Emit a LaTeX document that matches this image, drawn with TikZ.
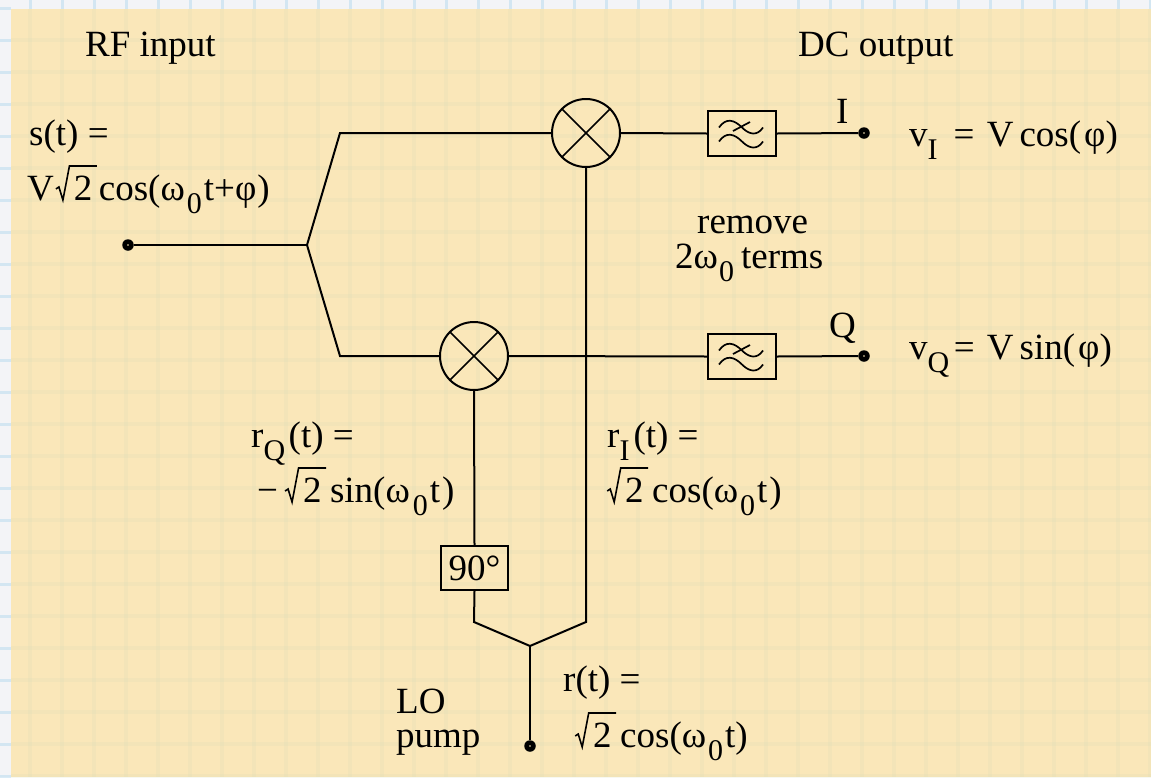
\documentclass[tikz,border=0pt]{standalone}
\usepackage{fontspec}
\setmainfont{Liberation Serif}
\usetikzlibrary{calc}
\definecolor{paper}{HTML}{F3F4F7}
\definecolor{panel}{HTML}{FAE7B9}
\definecolor{gridblue}{HTML}{BFDDF0}
\definecolor{gridtan}{HTML}{D8DCB8}
\newcommand{\sbs}[1]{\raisebox{-13pt}{\fontsize{30}{30}\selectfont #1}}
\newcommand{\rtwo}{\makebox[45pt][l]{\rlap{\tikz[baseline=0pt,overlay,x=1pt,y=1pt]\draw[line width=1.6pt,line join=miter] (0,11) -- (3,13) -- (7,0) -- (13.5,34) -- (41,34);}\hspace{18pt}2}}
\tikzset{
  x=1pt,y=-1pt,
  wire/.style={line width=2pt,line join=miter,black},
  lbl/.style={anchor=base west,inner sep=0pt,font=\fontsize{37}{37}\selectfont,text=black},
  mixer/.style={circle,draw,line width=2pt,minimum size=68pt,inner sep=0pt},
  filterbox/.style={rectangle,draw,line width=2pt,minimum width=68pt,minimum height=45pt,inner sep=0pt},
  phasebox/.style={rectangle,draw,line width=2pt,minimum width=67pt,minimum height=44pt,inner sep=0pt,font=\fontsize{37}{37}\selectfont},
  terminal/.style={circle,fill=black,inner sep=0pt,minimum size=11.5pt,path picture={\fill[panel] (path picture bounding box.center) circle (0.8pt);}},
  gridedge/.style={line width=3pt,gridblue,opacity=0.6},
  gridline/.style={line width=3.5pt,gridtan,opacity=0.2},
  wave/.pic={
    \draw[line width=1.7pt] (-23,-6) .. controls (-16,-16) and (-8,-14) .. (0,-6) .. controls (7,1) and (15,3) .. (21,-6);
    \draw[line width=1.7pt] (-9,-2.5) -- (8,-11.5);
    \draw[line width=1.7pt] (-23,8) .. controls (-16,-2) and (-8,0) .. (0,8) .. controls (7,15) and (15,17) .. (21,8);
  }
}
\begin{document}
\begin{tikzpicture}
\useasboundingbox (0,0) rectangle (1151,777);
\fill[paper] (0,0) rectangle (1151,777);
\foreach \gx in {30,62,...,1150} \draw[gridedge] (\gx,0) -- (\gx,9);
\foreach \gy in {8,40,...,776} \draw[gridedge] (0,\gy) -- (11,\gy);
\fill[panel] (11,9) rectangle (1151,777);
\foreach \gx in {30,62,...,1150} \draw[gridline] (\gx,9) -- (\gx,777);
\foreach \gy in {40,72,...,776} \draw[gridline] (11,\gy) -- (1151,\gy);

% mixers, filters, phase shifter
\node[mixer] (mI) at (586,133) {};
\node[mixer] (mQ) at (474,356) {};
\draw[line width=1.7pt] (mI.45) -- (mI.225) (mI.135) -- (mI.315);
\draw[line width=1.7pt] (mQ.45) -- (mQ.225) (mQ.135) -- (mQ.315);
\node[filterbox] (fI) at (742,133.5) {};
\node[filterbox] (fQ) at (742,356.5) {};
\pic at (fI.center) {wave};
\pic at (fQ.center) {wave};
\node[phasebox] (ph) at (474.5,568) {90°};

% terminals and junctions
\node[terminal] (rf) at (128,245) {};
\node[terminal] (iout) at (864,133) {};
\node[terminal] (qout) at (864,356) {};
\node[terminal] (lo) at (530,746) {};
\coordinate (split) at (307,245);
\coordinate (upI) at (340,133);
\coordinate (upQ) at (340,356);
\coordinate (merge) at (530,646);
\coordinate (elbowQ) at (474,622);
\coordinate (elbowI) at (586,622);

% connectors
\draw[wire] (rf) -- (split);
\draw[wire] (mI.west) -- (upI) -- (split) -- (upQ) -- (mQ.west);
\draw[wire] (mI.east) -- (fI.west);
\draw[wire] (fI.east) -- (iout);
\draw[wire] (mQ.east) -- (fQ.west);
\draw[wire] (fQ.east) -- (qout);
\draw[wire] (mI.south) -- (elbowI) -- (merge);
\draw[wire] (mQ.south) -- (ph.north);
\draw[wire] (ph.south) -- (elbowQ) -- (merge);
\draw[wire] (merge) -- (lo);

% labels
\node[lbl] (t1) at (85,56) {RF input};
\node[lbl] (t2) at (798,56) {DC output};
\node[lbl] (t3) at (29,145) {s(t) =};
\node[lbl] (t4) at (27,200) {V\hspace{2pt}\rtwo\hspace{-2pt}cos(ω\hspace{2pt}\sbs{0}\hspace{2pt}t+φ\hspace{1pt})};
\node[lbl] (t5) at (836,123) {I};
\node[lbl] (t6) at (829,337) {Q};
\node[lbl] (t7) at (909,146) {v\sbs{I}\hspace{16pt}=\hspace{3pt} V\hspace{6pt}cos(\hspace{3pt}φ)};
\node[lbl] (t8) at (909,359) {v\sbs{Q}\hspace{4.5pt}=\hspace{3pt} V\hspace{6pt}sin(\hspace{3pt}φ)};
\node[lbl] (t9) at (697,233) {remove};
\node[lbl] (t10) at (675,268) {2ω\hspace{1pt}\sbs{0}\hspace{7pt}terms};
\node[lbl] (t11) at (251,447) {r\sbs{Q}\hspace{3.5pt}(t) =};
\node[lbl] (t12) at (257,502) {−\hspace{7pt}\rtwo sin(ω\hspace{3pt}\sbs{0}\hspace{2pt}t\hspace{2pt})};
\node[lbl] (t13) at (607,447) {r\sbs{I}\hspace{4pt}(t) =};
\node[lbl] (t14) at (607,502) {\rtwo cos(ω\hspace{2pt}\sbs{0}\hspace{2pt}t\hspace{2pt})};
\node[lbl] (t15) at (396,713) {LO};
\node[lbl] (t16) at (396,747) {pump};
\node[lbl] (t17) at (563,691) {r(t) =};
\node[lbl] (t18) at (575,747) {\rtwo cos(ω\hspace{2pt}\sbs{0}\hspace{2pt}t)};
\end{tikzpicture}
\end{document}
